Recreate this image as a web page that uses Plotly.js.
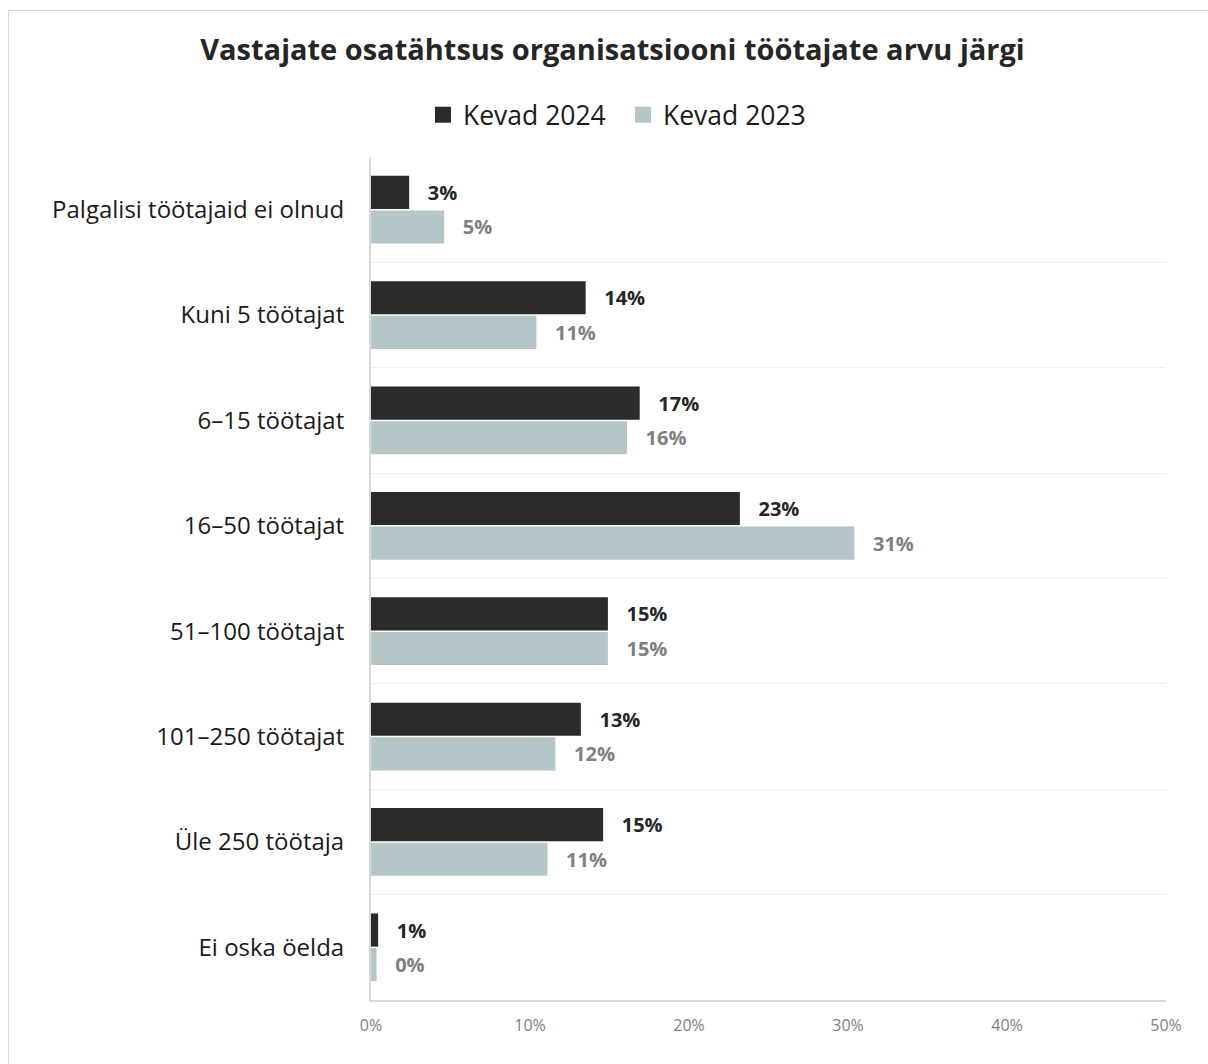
<!DOCTYPE html>
<html>
<head>
<meta charset="utf-8">
<script src="https://cdn.plot.ly/plotly-3.0.1.min.js"></script>
<style>
  html, body { margin: 0; padding: 0; background: #ffffff; }
  #wrap { position: relative; width: 1208px; height: 1064px; overflow: hidden; }
  #chart { position: absolute; left: 0; top: 0; width: 1208px; height: 1064px; }
  #frame { position: absolute; left: 8px; top: 10px; width: 1220px; height: 1080px;
           border: 1px solid #d9d9d9; pointer-events: none; box-sizing: border-box; }
</style>
</head>
<body>
<div id="wrap">
  <div id="chart"></div>
  <div id="frame"></div>
</div>
<script>
const categories = [
  "Palgalisi töötajaid ei olnud",
  "Kuni 5 töötajat",
  "6–15 töötajat",
  "16–50 töötajat",
  "51–100 töötajat",
  "101–250 töötajat",
  "Üle 250 töötaja",
  "Ei oska öelda"
];
const seriesNames = ["Kevad 2024", "Kevad 2023"];
const values2024 = [2.4, 13.5, 16.9, 23.2, 14.9, 13.2, 14.6, 0.45];
const values2023 = [4.6, 10.4, 16.1, 30.4, 14.9, 11.6, 11.1, 0.35];
const labels2024 = ["3%", "14%", "17%", "23%", "15%", "13%", "15%", "1%"];
const labels2023 = ["5%", "11%", "16%", "31%", "15%", "12%", "11%", "0%"];
const xTickValues = [0, 10, 20, 30, 40, 50];
const xTickLabels = ["0%", "10%", "20%", "30%", "40%", "50%"];

const FONT = "Open Sans, Noto Sans, sans-serif";
const pad = "\u00a0\u00a0\u00a0";
const colors = ["#2a2b2d", "#b4c6c8"];
const labelColors = ["#262626", "#808080"];

function barTrace(i, vals, labels) {
  return {
    type: "bar", orientation: "h", name: seriesNames[i], showlegend: false,
    y: categories, x: vals, text: labels,
    texttemplate: pad + "%{text}", textposition: "outside", cliponaxis: false,
    constraintext: "none",
    textfont: { family: FONT, size: 20, color: labelColors[i], weight: "bold" },
    marker: { color: colors[i], line: { width: 0 } },
    hoverinfo: "skip"
  };
}
function legendTrace(i) {
  return {
    type: "scatter", mode: "markers", name: seriesNames[i],
    x: [null], y: [null], showlegend: true,
    marker: { symbol: "square", size: 17, color: colors[i] },
    hoverinfo: "skip"
  };
}

const traces = [
  barTrace(0, values2024, labels2024),
  barTrace(1, values2023, labels2023),
  legendTrace(0),
  legendTrace(1)
];

const layout = {
  width: 1208, height: 1064,
  paper_bgcolor: "rgba(0,0,0,0)", plot_bgcolor: "#ffffff",
  margin: { l: 371, r: 42, t: 157, b: 64, pad: 0 },
  font: { family: FONT, color: "#1a1a1a" },
  title: {
    text: "<b>Vastajate osatähtsus organisatsiooni töötajate arvu järgi</b>",
    font: { family: FONT, size: 29, color: "#262626" },
    x: 0.507, xanchor: "center", y: 0.953, yanchor: "middle"
  },
  showlegend: true,
  legend: {
    orientation: "h", xref: "container", x: 0.5157, xanchor: "center",
    yref: "container", y: 1 - 115 / 1064, yanchor: "middle",
    font: { family: FONT, size: 26.5, color: "#1a1a1a" },
    traceorder: "normal", itemwidth: 30, entrywidth: 155, entrywidthmode: "pixels"
  },
  barmode: "group", bargap: 0.345, bargroupgap: 0.04,
  xaxis: {
    range: [0, 50], tickvals: xTickValues, ticktext: xTickLabels,
    showgrid: false, zeroline: false,
    showline: true, linecolor: "#d9d9d9", linewidth: 1.5,
    ticks: "", ticklabelstandoff: 10,
    tickfont: { family: FONT, size: 16, color: "#808080" },
    fixedrange: true
  },
  yaxis: {
    type: "category", autorange: "reversed",
    showgrid: true, gridcolor: "#eeeeee", gridwidth: 1, tickson: "boundaries",
    showline: true, linecolor: "#d9d9d9", linewidth: 2,
    ticks: "", ticklabelstandoff: 20, zeroline: false,
    tickfont: { family: FONT, size: 24, color: "#1a1a1a" },
    fixedrange: true
  }
};

Plotly.newPlot("chart", traces, layout, { displayModeBar: false, staticPlot: true });
</script>
</body>
</html>
